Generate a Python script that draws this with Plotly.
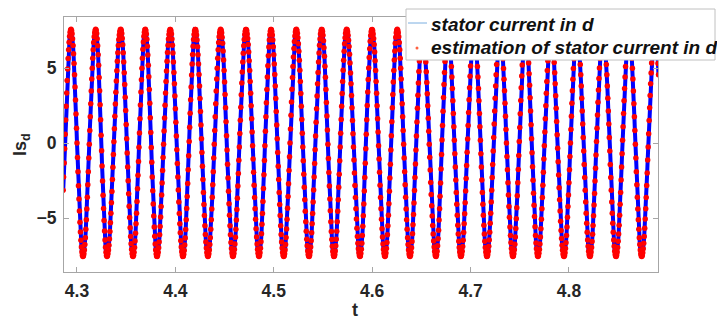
import numpy as np
import plotly.graph_objects as go

# ---- data ----
# times (s) of the successive extrema of the d-axis stator current
extrema_times = [4.2815, 4.2939, 4.3061, 4.3190, 4.3305, 4.3444, 4.3569, 4.3694,
                 4.3813, 4.3948, 4.4077, 4.4202, 4.4331, 4.4460, 4.4585, 4.4718,
                 4.4850, 4.4972, 4.5101, 4.5229, 4.5358, 4.5487, 4.5612, 4.5741,
                 4.5876, 4.5998, 4.6130, 4.6255, 4.6384, 4.6511, 4.6648, 4.6770,
                 4.6902, 4.7035, 4.7167, 4.7299, 4.7431, 4.7558, 4.7685, 4.7817,
                 4.7949, 4.8081, 4.8213, 4.8346, 4.8478, 4.8610, 4.8739, 4.8874,
                 4.8996]
# value at each extremum (alternating trough / peak)
extrema_values = [-7.55 if i % 2 == 0 else 7.6 for i in range(len(extrema_times))]
sample_step = 0.0005
t_first, t_last = 4.2860, 4.8910
x_ticks = [4.3, 4.4, 4.5, 4.6, 4.7, 4.8]
y_ticks = [-5, 0, 5]
series_names = ["stator current in d", "estimation of stator current in d"]
x_title, y_title = "t", "Is<sub>d</sub>"

# ---- build sampled signal through the read extrema ----
t = np.arange(t_first, t_last + 1e-9, sample_step)
et = np.array(extrema_times)
ev = np.array(extrema_values)
idx = np.clip(np.searchsorted(et, t) - 1, 0, len(et) - 2)
t0, t1 = et[idx], et[idx + 1]
v0, v1 = ev[idx], ev[idx + 1]
frac = np.clip((t - t0) / (t1 - t0), 0, 1)
isd = (v0 + v1) / 2 + (v0 - v1) / 2 * np.cos(np.pi * frac)
isd_est = isd.copy()

fig = go.Figure()
fig.add_trace(go.Scatter(x=t, y=isd, mode="lines", name=series_names[0],
                         line=dict(color="#0000ff", width=4), showlegend=False))
fig.add_trace(go.Scatter(x=t, y=isd_est, mode="markers", name=series_names[1],
                         marker=dict(color="#ff0000", size=5.5, line=dict(width=0)),
                         showlegend=False))

L, R, T, B = 64, 59, 17, 49
W, H = 717, 321
pw, ph = W - L - R, H - T - B


def px(x):
    return (x - L) / pw


def py(y):
    return (H - B - y) / ph


axis_col = "#a6a6a6"
fam = "Liberation Sans, Arial, sans-serif"
tick_font = dict(family=fam, size=17.5, color="#262626", weight="bold")

fig.update_layout(
    width=W, height=H,
    margin=dict(l=L, r=R, t=T, b=B, autoexpand=False),
    paper_bgcolor="white", plot_bgcolor="white",
    xaxis=dict(range=[4.2868, 4.8905], tickvals=x_ticks,
               ticktext=[f"{v:.1f}" for v in x_ticks],
               ticks="inside", ticklen=5, tickcolor=axis_col,
               showline=True, linecolor=axis_col, linewidth=1, mirror="ticks",
               showgrid=False, zeroline=False, tickfont=tick_font,
               ticklabelstandoff=3, automargin=False),
    yaxis=dict(range=[-8.58, 8.42], tickvals=y_ticks,
               ticks="inside", ticklen=5, tickcolor=axis_col,
               showline=True, linecolor=axis_col, linewidth=1, mirror="ticks",
               showgrid=False, zeroline=False, tickfont=tick_font,
               ticklabelstandoff=3, automargin=False),
)

# axis titles
title_font = dict(family=fam, size=18, color="#262626", weight="bold")
fig.add_annotation(x=px(355), y=py(310), xref="paper", yref="paper", text=x_title,
                   showarrow=False, xanchor="center", yanchor="middle", borderpad=0,
                   font=title_font)
fig.add_annotation(x=px(21), y=py(145), xref="paper", yref="paper", text=y_title,
                   showarrow=False, xanchor="center", yanchor="middle", textangle=-90,
                   font=title_font)

# ---- legend box (drawn to match the original position/extent) ----
fig.add_shape(type="rect", xref="paper", yref="paper",
              x0=px(406), x1=px(715), y0=py(60), y1=py(9),
              line=dict(color="#c0c0c0", width=1), fillcolor="white", layer="above")
fig.add_shape(type="line", xref="paper", yref="paper",
              x0=px(408), x1=px(427), y0=py(23), y1=py(23),
              line=dict(color="#7aaee0", width=1), layer="above")
fig.add_shape(type="circle", xref="paper", yref="paper",
              x0=px(415.5), x1=px(418.5), y0=py(49.5), y1=py(46.5),
              line=dict(width=0), fillcolor="#ff6040", layer="above")
legend_font = dict(family=fam, size=19, color="#111111", weight="bold", style="italic")
for name, yc in zip(series_names, [24, 47]):
    fig.add_annotation(x=px(429), y=py(yc), xref="paper", yref="paper",
                       text=name, showarrow=False, xanchor="left", yanchor="middle",
                       font=legend_font)

fig.write_html("out.html", config={"displayModeBar": False},
               post_script="document.body.style.margin='0';")
